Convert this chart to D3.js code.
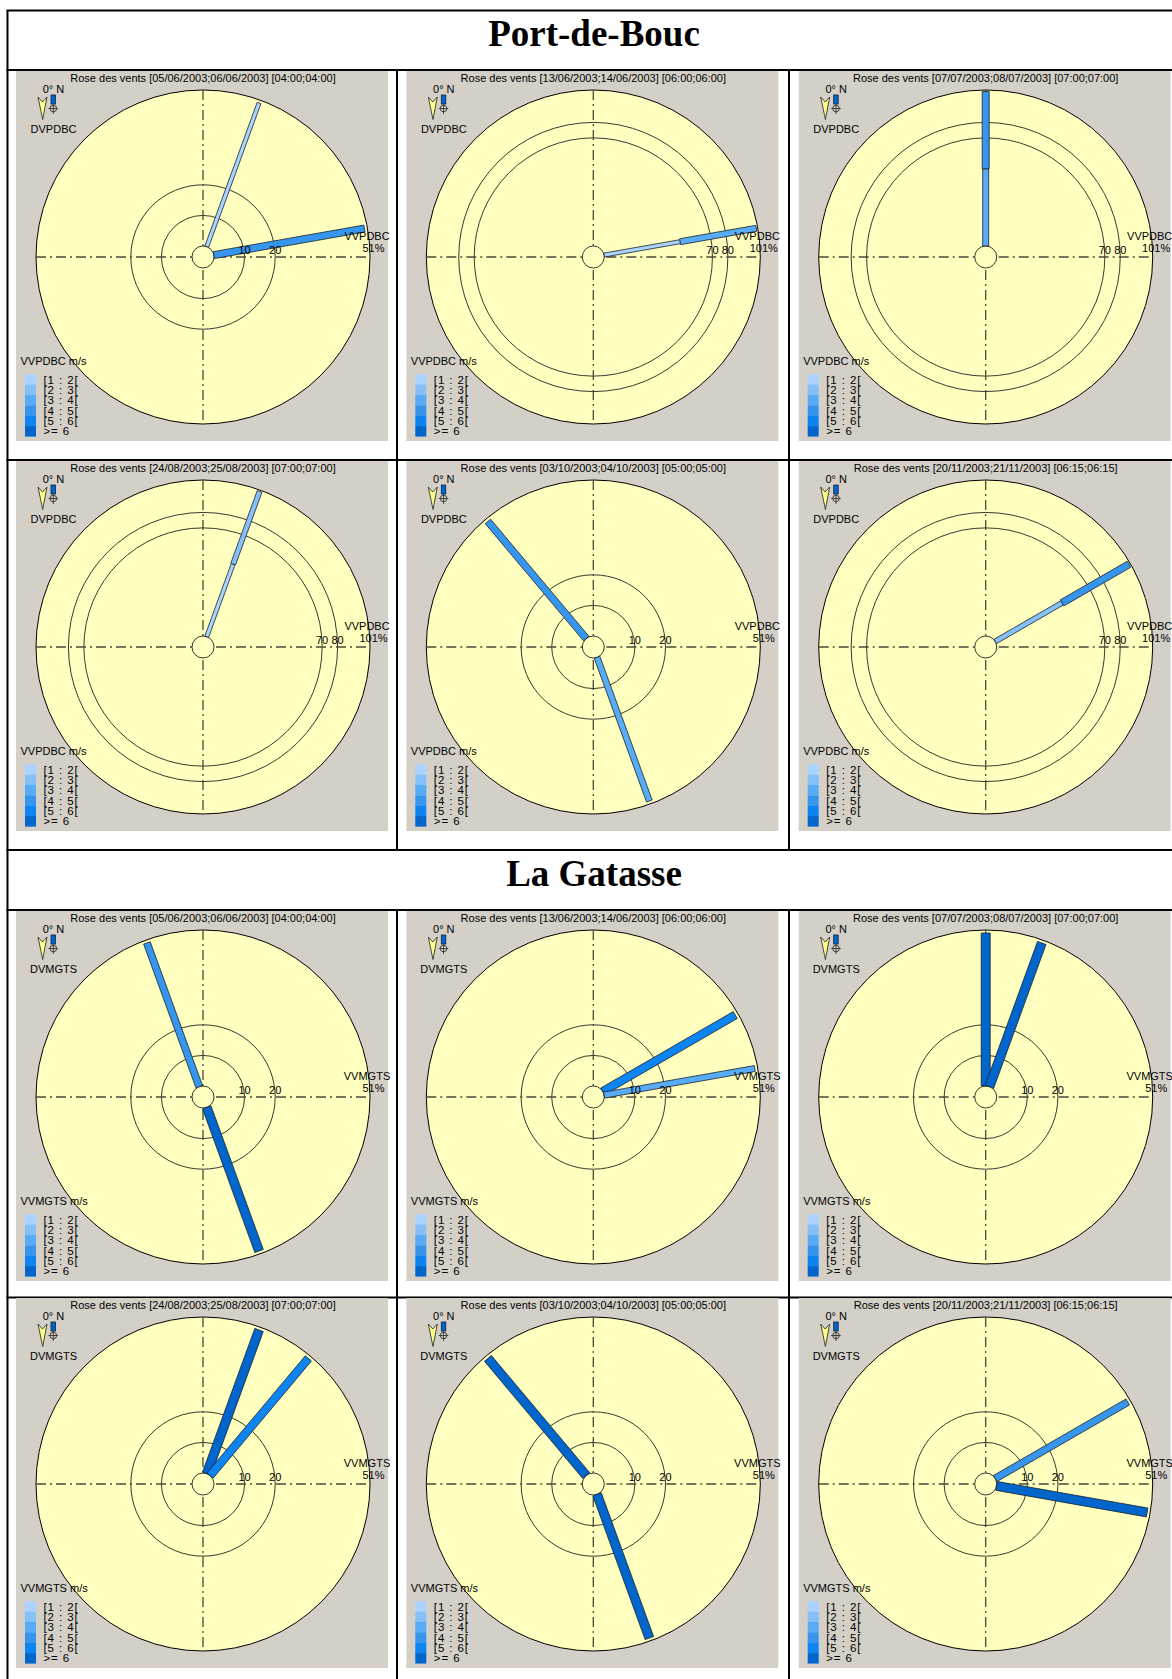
<!DOCTYPE html>
<html>
<head>
<meta charset="utf-8">
<script src="https://cdn.jsdelivr.net/npm/d3@7"></script>
<style>
  html, body { margin: 0; padding: 0; background: #fff; }
  svg { display: block; }
  text { font-family: "Liberation Sans", Arial, sans-serif; }
</style>
</head>
<body>
<svg id="chart" width="1172" height="1679"></svg>
<script>
// ---- data ----
const stations = ["Port-de-Bouc", "La Gatasse"];
const stationCodes = ["PDBC", "MGTS"];
const periods = [
  "[05/06/2003;06/06/2003] [04:00;04:00]",
  "[13/06/2003;14/06/2003] [06:00;06:00]",
  "[07/07/2003;08/07/2003] [07:00;07:00]",
  "[24/08/2003;25/08/2003] [07:00;07:00]",
  "[03/10/2003;04/10/2003] [05:00;05:00]",
  "[20/11/2003;21/11/2003] [06:15;06:15]"
];
const speedClasses = ["[1 : 2[", "[2 : 3[", "[3 : 4[", "[4 : 5[", "[5 : 6[", ">= 6"];
// outer ring of each rose, in %
const pdbcScaleMax = [51, 101, 101, 101, 51, 101];
const mgtsScaleMax = [51, 51, 51, 51, 51, 51];
// labelled rings depending on the outer ring
const ringsFor51 = [10, 20];
const ringsFor101 = [70, 80];
// sectors: [direction in degrees clockwise from north, % of time per speed class]
const pdbcSectors = [
  [[20, [50, 0, 0, 0, 0, 0]], [80, [0, 0, 0, 50, 0, 0]]],
  [[80, [50, 0, 50, 0, 0, 0]]],
  [[0, [0, 0, 50, 50, 0, 0]]],
  [[20, [50, 50, 0, 0, 0, 0]]],
  [[320, [0, 0, 0, 50, 0, 0]], [160, [0, 0, 50, 0, 0, 0]]],
  [[60, [0, 50, 0, 50, 0, 0]]]
];
const mgtsSectors = [
  [[340, [0, 0, 0, 50, 0, 0]], [160, [0, 0, 0, 0, 0, 50]]],
  [[60, [0, 0, 0, 0, 50, 0]], [80, [0, 0, 50, 0, 0, 0]]],
  [[0, [0, 0, 0, 0, 0, 50]], [20, [0, 0, 0, 0, 0, 50]]],
  [[20, [0, 0, 0, 0, 0, 50]], [40, [0, 0, 0, 0, 50, 0]]],
  [[320, [0, 0, 0, 0, 0, 50]], [160, [0, 0, 0, 0, 0, 50]]],
  [[60, [0, 0, 0, 50, 0, 0]], [100, [0, 0, 0, 0, 0, 50]]]
];

// ---- styles ----
const classColors = ["#aad4ff", "#86c0f8", "#58acf6", "#3696ee", "#0c84f2", "#0066cc"];
const panelGrey = "#d4d0c8";
const roseYellow = "#ffffc0";

const svg = d3.select("#chart");

// ---- table frame ----
const colX = [7.5, 397, 789];
const tableRight = 1182;
const hLines = [10.5, 70, 460, 850, 910, 1297.5];
const frame = svg.append("g").attr("stroke", "#000").attr("stroke-width", 2);
hLines.forEach(y => frame.append("line").attr("x1", colX[0] - 1).attr("x2", tableRight).attr("y1", y).attr("y2", y));
frame.append("line").attr("x1", colX[0]).attr("x2", colX[0]).attr("y1", hLines[0]).attr("y2", 1700);
[1, 2].forEach(i => {
  frame.append("line").attr("x1", colX[i]).attr("x2", colX[i]).attr("y1", hLines[1]).attr("y2", hLines[3]);
  frame.append("line").attr("x1", colX[i]).attr("x2", colX[i]).attr("y1", hLines[4]).attr("y2", 1700);
});

// station headings
const headingTop = [hLines[0], hLines[3]];
stations.forEach((name, i) => {
  svg.append("text")
    .attr("x", 594).attr("y", headingTop[i] + 35.5)
    .attr("text-anchor", "middle")
    .style("font-family", "'Liberation Serif', 'Times New Roman', serif")
    .style("font-weight", "bold")
    .style("font-size", "37px")
    .text(name);
});

// ---- one wind rose ----
const R_IN = 11, R_OUT = 167;
const widthByClass = d3.scaleLinear().domain([0, speedClasses.length - 1]).range([4, 9]);
const colorByClass = d3.scaleOrdinal().domain(d3.range(speedClasses.length)).range(classColors);

function rose(cx, cy, code, period, max, sectors) {
  const g = svg.append("g").attr("transform", `translate(${cx},${cy})`);
  const r = d3.scaleLinear().domain([0, max]).range([R_IN, R_OUT]);
  const rings = max > 60 ? ringsFor101 : ringsFor51;
  const ox = -187, oy = -186; // top-left corner of the panel

  g.append("rect").attr("x", ox).attr("y", oy).attr("width", 372).attr("height", 370).attr("fill", panelGrey);

  g.append("circle").attr("r", r(max)).attr("fill", roseYellow).attr("stroke", "#000").attr("stroke-width", 1);

  g.selectAll("circle.ring").data(rings).join("circle")
    .attr("class", "ring").attr("r", d => r(d))
    .attr("fill", "none").attr("stroke", "#3a3a30").attr("stroke-width", 1);

  const axisStyle = sel => sel.attr("stroke", "#4a4a3a").attr("stroke-width", 1.3).attr("stroke-dasharray", "10,4,2,4");
  g.append("line").attr("x1", -r(max)).attr("x2", r(max)).attr("y1", 0).attr("y2", 0).call(axisStyle);
  g.append("line").attr("x1", 0).attr("x2", 0).attr("y1", -r(max)).attr("y2", r(max)).call(axisStyle);

  g.append("circle").attr("r", r(0)).attr("fill", roseYellow).attr("stroke", "#3a3a30").attr("stroke-width", 1);

  // stacked speed-class segments of each sector
  const segs = [];
  sectors.forEach(([dir, pcts]) => {
    let acc = 0;
    pcts.forEach((p, k) => {
      if (p > 0) { segs.push({ dir, k, from: acc, to: acc + p }); acc += p; }
    });
  });
  const segPath = s => {
    const a = s.dir * Math.PI / 180;
    const h = widthByClass(s.k) / 2;
    const nx = Math.cos(a) * h, ny = Math.sin(a) * h;
    const [x0, y0] = d3.pointRadial(a, r(s.from));
    const [x1, y1] = d3.pointRadial(a, r(s.to));
    return d3.line()([[x0 + nx, y0 + ny], [x1 + nx, y1 + ny], [x1 - nx, y1 - ny], [x0 - nx, y0 - ny]]) + "Z";
  };
  g.selectAll("path.seg").data(segs).join("path")
    .attr("class", "seg").attr("d", segPath)
    .attr("fill", d => colorByClass(d.k))
    .attr("stroke", "#1a2230").attr("stroke-width", 0.8).attr("stroke-linejoin", "miter");

  const small = sel => sel.style("font-size", "11px").attr("fill", "#000");

  // ring values
  g.selectAll("text.ringlab").data(rings).join("text")
    .attr("class", "ringlab").attr("x", d => r(d)).attr("y", -3.5)
    .attr("text-anchor", "middle").call(small).text(d => d);

  g.append("text").attr("x", 164).attr("y", -17.5).attr("text-anchor", "middle").call(small).text("VV" + code);
  g.append("text").attr("x", 170.5).attr("y", -5).attr("text-anchor", "middle").call(small).text(max + "%");

  g.append("text").attr("x", 0).attr("y", oy + 11).attr("text-anchor", "middle").call(small)
    .text("Rose des vents " + period);

  // north marker
  g.append("text").attr("x", ox + 37.5).attr("y", oy + 21.5).attr("text-anchor", "middle").call(small).text("0° N");
  g.append("path")
    .attr("d", d3.line()([[ox + 22, oy + 26], [ox + 26.5, oy + 31], [ox + 31, oy + 26], [ox + 26.7, oy + 48.5]]) + "Z")
    .attr("fill", "#ffff88").attr("stroke", "#333").attr("stroke-width", 0.9);
  g.append("rect").attr("x", ox + 35).attr("y", oy + 24).attr("width", 4.5).attr("height", 9)
    .attr("fill", "#0066cc").attr("stroke", "#102040").attr("stroke-width", 0.8);
  g.append("circle").attr("cx", ox + 37.3).attr("cy", oy + 37.5).attr("r", 3.3)
    .attr("fill", "none").attr("stroke", "#333").attr("stroke-width", 0.9);
  g.append("line").attr("x1", ox + 32.5).attr("x2", ox + 42).attr("y1", oy + 37.5).attr("y2", oy + 37.5).attr("stroke", "#333").attr("stroke-width", 0.9);
  g.append("line").attr("x1", ox + 37.3).attr("x2", ox + 37.3).attr("y1", oy + 33).attr("y2", oy + 43).attr("stroke", "#333").attr("stroke-width", 0.9);
  g.append("text").attr("x", ox + 37.5).attr("y", oy + 62).attr("text-anchor", "middle").call(small).text("DV" + code);

  // speed legend
  g.append("text").attr("x", ox + 4.5).attr("y", oy + 294).call(small).text("VV" + code + " m/s");
  const rowH = 10.35, legTop = oy + 303.3;
  g.selectAll("rect.sw").data(speedClasses).join("rect")
    .attr("class", "sw").attr("x", ox + 9).attr("y", (d, i) => legTop + i * rowH)
    .attr("width", 11).attr("height", rowH + 0.2).attr("fill", (d, i) => colorByClass(i));
  g.selectAll("text.lg").data(speedClasses).join("text")
    .attr("class", "lg").attr("x", ox + 27.5).attr("y", (d, i) => legTop + i * rowH + 9.3)
    .style("font-size", "11.5px").style("letter-spacing", "0.9px").attr("fill", "#000")
    .text(d => d);
}

// ---- grid of roses ----
const colCx = [203, 593.3, 985.7];
const pdbcRowCy = [257, 647];
const mgtsRowCy = [1097, 1484];
periods.forEach((p, i) => {
  const col = i % 3, row = Math.floor(i / 3);
  rose(colCx[col], pdbcRowCy[row], stationCodes[0], p, pdbcScaleMax[i], pdbcSectors[i]);
  rose(colCx[col], mgtsRowCy[row], stationCodes[1], p, mgtsScaleMax[i], mgtsSectors[i]);
});
</script>
</body>
</html>
